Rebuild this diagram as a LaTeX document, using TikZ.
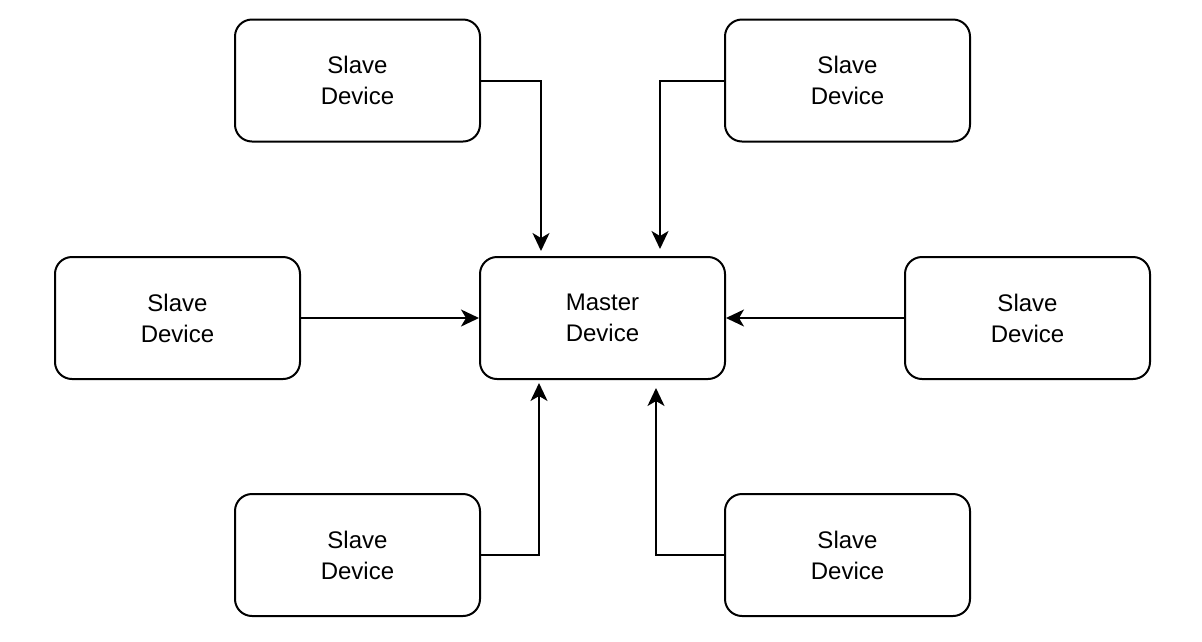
\documentclass[tikz,border=0pt]{standalone}
\usepackage{fontspec}
\setmainfont{Liberation Sans}
\usetikzlibrary{arrows.meta}
\begin{document}
\begin{tikzpicture}[x=1pt,y=-1pt,
  dev/.style={draw, line width=2pt, rounded corners=17pt, minimum width=245pt, minimum height=122pt,
    align=center, font=\fontsize{24}{31}\selectfont, inner sep=0pt, text depth=0pt},
  conn/.style={line width=2pt, -{Stealth[length=18pt,width=17pt,inset=5pt]}}]
\useasboundingbox (0,0) rectangle (1202,641);
\node[dev] (tl) at (357.5,80.5) {Slave\\Device};
\node[dev] (tr) at (847.5,80.5) {Slave\\Device};
\node[dev] (l) at (177.5,318) {Slave\\Device};
\node[dev] (m) at (602.5,318) {Master\\Device};
\node[dev] (r) at (1027.5,318) {Slave\\Device};
\node[dev] (bl) at (357.5,555) {Slave\\Device};
\node[dev] (br) at (847.5,555) {Slave\\Device};
\coordinate (m1) at (541,251);
\coordinate (m2) at (660,249);
\coordinate (m3) at (539,383);
\coordinate (m4) at (656,388);
\draw[conn] (tl.east) -| (m1);
\draw[conn] (tr.west) -| (m2);
\draw[conn] (bl.east) -| (m3);
\draw[conn] (br.west) -| (m4);
\draw[conn] (l.east) -- (m.west);
\draw[conn] (r.west) -- (m.east);
\end{tikzpicture}
\end{document}
